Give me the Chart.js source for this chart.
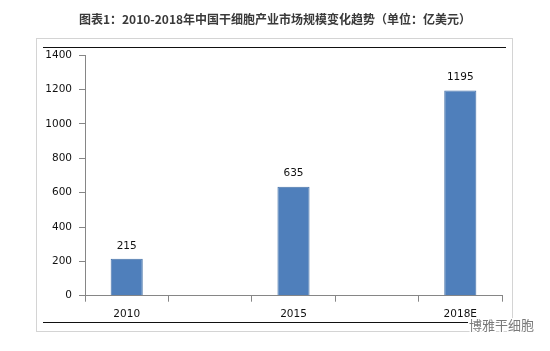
<!DOCTYPE html>
<html>
<head>
<meta charset="utf-8">
<script src="https://cdn.jsdelivr.net/npm/chart.js@4.4.1/dist/chart.umd.min.js"></script>
<style>
  html, body { margin: 0; padding: 0; background: #ffffff; }
  #wrap { position: relative; width: 550px; height: 351px; }
</style>
</head>
<body>
<div id="wrap"><canvas id="c"></canvas></div>
<script>
// ---- data ----
const categories = ['2010', '', '2015', '', '2018E'];
const marketSize = [215, null, 635, null, 1195];
const yMin = 0;
const yMax = 1400;
const yStep = 200;
const titleText = '图表1：2010-2018年中国干细胞产业市场规模变化趋势（单位：亿美元）';
const sourceMark = '博雅干细胞';

const numFont = { family: '"DejaVu Sans", sans-serif', size: 10.5 };

const framePlugin = {
  id: 'frame',
  beforeDraw(chart) {
    const ctx = chart.ctx;
    ctx.save();
    ctx.fillStyle = '#ffffff';
    ctx.fillRect(0, 0, chart.width, chart.height);
    ctx.strokeStyle = '#d4d4d4';
    ctx.lineWidth = 1;
    ctx.strokeRect(36.5, 38.5, 476, 293);
    ctx.strokeStyle = '#111111';
    ctx.lineWidth = 1.2;
    ctx.beginPath();
    ctx.moveTo(43, 47.5); ctx.lineTo(506, 47.5);
    ctx.moveTo(43, 322.5); ctx.lineTo(506, 322.5);
    ctx.stroke();
    ctx.restore();
  },
  afterDraw(chart) {
    const ctx = chart.ctx;
    ctx.save();
    // title
    ctx.font = 'bold 12px "Noto Sans CJK SC", sans-serif';
    ctx.fillStyle = '#3a3a3a';
    ctx.textAlign = 'center';
    ctx.textBaseline = 'middle';
    ctx.fillText(titleText, 275, 19);
    // source mark
    ctx.font = '13px "Noto Sans CJK SC", sans-serif';
    ctx.textAlign = 'left';
    ctx.lineWidth = 3;
    ctx.strokeStyle = '#ffffff';
    ctx.strokeText(sourceMark, 469, 325);
    ctx.fillStyle = '#7a7a7a';
    ctx.fillText(sourceMark, 469, 325);
    ctx.restore();
  }
};

const valueLabels = {
  id: 'valueLabels',
  afterDatasetsDraw(chart) {
    const ctx = chart.ctx;
    const meta = chart.getDatasetMeta(0);
    ctx.save();
    ctx.font = numFont.size + 'px ' + numFont.family;
    ctx.fillStyle = '#111111';
    ctx.textAlign = 'center';
    ctx.textBaseline = 'middle';
    meta.data.forEach((bar, i) => {
      const v = chart.data.datasets[0].data[i];
      if (v === null || v === undefined) return;
      ctx.fillText(String(v), bar.x, bar.y - 13);
    });
    ctx.restore();
  }
};

new Chart(document.getElementById('c'), {
  type: 'bar',
  data: {
    labels: categories,
    datasets: [{
      data: marketSize,
      backgroundColor: '#4f7fbb',
      borderColor: '#4672a8',
      borderWidth: 1,
      barPercentage: 1,
      categoryPercentage: 0.385
    }]
  },
  options: {
    responsive: true,
    maintainAspectRatio: false,
    animation: false,
    layout: { padding: { left: 0, right: 48, top: 55.3, bottom: 0 } },
    plugins: {
      legend: { display: false },
      tooltip: { enabled: false },
      title: { display: false }
    },
    scales: {
      x: {
        afterFit(scale) { scale.height = 55.3; },
        grid: { offset: true, drawOnChartArea: false, drawTicks: true, tickLength: 6, color: '#868686' },
        border: { color: '#868686' },
        ticks: { color: '#111111', font: numFont, padding: 6, autoSkip: false, maxRotation: 0 }
      },
      y: {
        min: yMin,
        max: yMax,
        afterFit(scale) { scale.width = 85; },
        grid: { drawOnChartArea: false, drawTicks: true, tickLength: 6, color: '#868686' },
        border: { color: '#868686' },
        ticks: {
          stepSize: yStep, color: '#111111', font: numFont, padding: 7,
          callback: (v) => String(v)
        }
      }
    }
  },
  plugins: [framePlugin, valueLabels]
});
</script>
</body>
</html>
